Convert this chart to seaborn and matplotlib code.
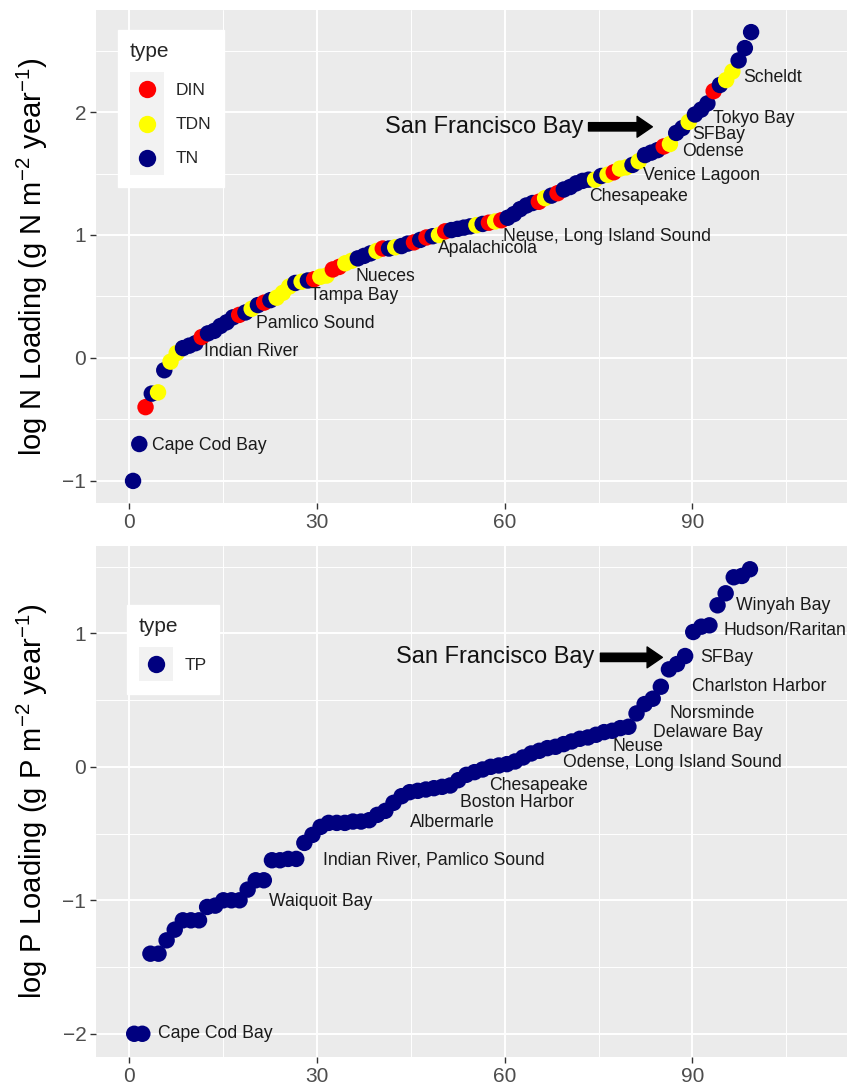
import numpy as np
import pandas as pd
import matplotlib
matplotlib.use("Agg")
import matplotlib.pyplot as plt
from matplotlib.ticker import MultipleLocator
from matplotlib.lines import Line2D
from matplotlib.patches import Rectangle
from matplotlib.legend_handler import HandlerBase
import seaborn as sns

# === Datos: carga de N (ordenada) ===
n_load = [-1.00, -0.70, -0.40, -0.29, -0.28, -0.10, -0.03, 0.04, 0.08, 0.10,
          0.12, 0.17, 0.20, 0.22, 0.26, 0.29, 0.33, 0.35, 0.37, 0.40,
          0.43, 0.45, 0.47, 0.49, 0.53, 0.58, 0.61, 0.62, 0.63, 0.64,
          0.66, 0.67, 0.72, 0.74, 0.77, 0.79, 0.81, 0.83, 0.85, 0.87,
          0.89, 0.89, 0.90, 0.91, 0.93, 0.94, 0.96, 0.98, 0.99, 1.00,
          1.03, 1.04, 1.05, 1.06, 1.07, 1.08, 1.09, 1.10, 1.11, 1.12,
          1.14, 1.17, 1.21, 1.24, 1.26, 1.27, 1.30, 1.32, 1.34, 1.37,
          1.39, 1.42, 1.44, 1.45, 1.45, 1.48, 1.49, 1.51, 1.54, 1.55,
          1.57, 1.60, 1.65, 1.67, 1.69, 1.72, 1.74, 1.83, 1.87, 1.92,
          1.98, 2.02, 2.07, 2.17, 2.22, 2.26, 2.33, 2.42, 2.52, 2.65]
n_type = ["TN", "TN", "DIN", "TN", "TDN", "TN", "TDN", "TDN", "TN", "TN",
          "TN", "DIN", "TN", "TN", "TN", "TN", "TN", "DIN", "TN", "TDN",
          "TN", "DIN", "TN", "TDN", "TDN", "TDN", "TN", "TDN", "TN", "DIN",
          "TDN", "TDN", "DIN", "DIN", "TDN", "TDN", "TN", "TN", "TN", "TDN",
          "DIN", "TN", "TDN", "TN", "TN", "DIN", "TN", "DIN", "TN", "TDN",
          "DIN", "TN", "TN", "TN", "TN", "TDN", "TN", "DIN", "TDN", "DIN",
          "TN", "TN", "TN", "TN", "TN", "DIN", "TDN", "TN", "DIN", "TN",
          "TN", "TN", "TN", "TN", "TDN", "TN", "TDN", "DIN", "TDN", "TDN",
          "TN", "TDN", "TN", "TN", "TN", "DIN", "TDN", "TN", "TN", "TDN",
          "TN", "TN", "TN", "DIN", "TN", "TDN", "TDN", "TN", "TN", "TN"]

n_labels = ["Cape Cod Bay", "Indian River", "Pamlico Sound", "Tampa Bay", "Nueces",
            "Apalachicola", "Neuse, Long Island Sound", "Chesapeake", "Venice Lagoon",
            "Odense", "SFBay", "Tokyo Bay", "Scheldt"]
n_label_x = [3.7, 12.0, 20.3, 28.9, 36.1, 49.4, 59.7, 73.5, 82.1, 88.3, 89.9, 93.3, 98.1]
n_label_y = [-0.71, 0.05, 0.28, 0.51, 0.66, 0.89, 0.99, 1.31, 1.48, 1.68, 1.82, 1.95, 2.28]

# === Datos: carga de P (ordenada) ===
p_load = [-2.00, -2.00, -1.40, -1.40, -1.30, -1.22, -1.15, -1.15, -1.15, -1.05,
          -1.04, -1.00, -1.00, -1.00, -0.92, -0.85, -0.85, -0.70, -0.70, -0.69,
          -0.69, -0.57, -0.51, -0.45, -0.42, -0.42, -0.42, -0.41, -0.41, -0.40,
          -0.36, -0.33, -0.27, -0.22, -0.19, -0.18, -0.17, -0.16, -0.15, -0.14,
          -0.10, -0.06, -0.04, -0.02, 0.00, 0.01, 0.02, 0.04, 0.07, 0.10,
          0.12, 0.14, 0.15, 0.17, 0.19, 0.21, 0.22, 0.24, 0.26, 0.27,
          0.29, 0.30, 0.40, 0.47, 0.51, 0.60, 0.73, 0.77, 0.83, 1.01,
          1.05, 1.06, 1.21, 1.30, 1.42, 1.43, 1.48]
p_type = ["TP"] * len(p_load)

p_labels = ["Cape Cod Bay", "Waiquoit Bay", "Indian River, Pamlico Sound", "Albermarle",
            "Boston Harbor", "Chesapeake", "Odense, Long Island Sound", "Neuse",
            "Delaware Bay", "Norsminde", "Charlston Harbor", "SFBay", "Hudson/Raritan",
            "Winyah Bay"]
p_label_x = [4.6, 22.4, 31.0, 44.8, 52.8, 57.5, 69.3, 77.2, 83.7, 86.3, 90.0, 91.3, 95.0, 97.0]
p_label_y = [-2.0, -1.01, -0.70, -0.42, -0.27, -0.14, 0.03, 0.15, 0.26, 0.40, 0.60, 0.82, 1.02, 1.21]

colores = {"DIN": "#ff0000", "TDN": "#ffff00", "TN": "#00007f", "TP": "#00007f"}


def blom_rank(n):
    """Posicion de graficado (Blom) en porcentaje."""
    i = np.arange(1, n + 1)
    return 100 * (i - 0.375) / (n + 0.25)


df_n = pd.DataFrame({"rank": blom_rank(len(n_load)), "load": n_load, "type": n_type})
df_p = pd.DataFrame({"rank": blom_rank(len(p_load)), "load": p_load, "type": p_type})

# === Configuración visual ===
sns.set_theme(style="darkgrid", rc={"axes.facecolor": "#ebebeb", "grid.color": "white"})
plt.rcParams["font.family"] = ["Liberation Sans", "DejaVu Sans"]
plt.rcParams["mathtext.fontset"] = "custom"
plt.rcParams["mathtext.rm"] = "Liberation Sans"
plt.rcParams["mathtext.default"] = "regular"

fig = plt.figure(figsize=(8.6, 10.86), dpi=100)
ax1 = fig.add_axes([0.1116, 0.5368, 0.8733, 0.4540])
ax2 = fig.add_axes([0.1116, 0.0267, 0.8733, 0.4705])


class HandlerKey(HandlerBase):
    """Llave tipo ggplot: cuadro gris con punto centrado."""
    def create_artists(self, legend, orig_handle, xdescent, ydescent, width, height,
                       fontsize, trans):
        rect = Rectangle((-xdescent, -ydescent), width, height, facecolor="#f2f2f2",
                         edgecolor="none", transform=trans)
        dot = Line2D([width / 2 - xdescent], [height / 2 - ydescent], marker="o",
                     linestyle="", markersize=12.5, color=orig_handle.get_color(),
                     markeredgewidth=0, transform=trans)
        return [rect, dot]


def style_axes(ax, ylim):
    ax.set_xlim(-5.3, 114.7)
    ax.set_ylim(*ylim)
    ax.xaxis.set_major_locator(MultipleLocator(30))
    ax.xaxis.set_minor_locator(MultipleLocator(15))
    ax.yaxis.set_major_locator(MultipleLocator(1))
    ax.yaxis.set_minor_locator(MultipleLocator(0.5))
    ax.grid(which="major", color="white", linewidth=1.4)
    ax.grid(which="minor", color="white", linewidth=0.7)
    ax.tick_params(which="major", length=4, width=1, color="#333333",
                   labelsize=15, labelcolor="#4d4d4d", pad=3)
    ax.tick_params(which="minor", length=0)
    ax.tick_params(axis="x", bottom=True)
    ax.tick_params(axis="y", left=True)
    for s in ax.spines.values():
        s.set_visible(False)
    ax.set_xlabel("")


def sf_arrow(ax, y, x_text, x_tip):
    ax.text(x_text, y, "San Francisco Bay", ha="right", va="center", fontsize=17, color="#111111")
    ax.annotate("", xy=(x_tip, y), xytext=(x_text + 0.9, y),
                arrowprops=dict(facecolor="black", edgecolor="black", width=6,
                                headwidth=15, headlength=11, shrink=0))


def gg_legend(ax, tipos, anchor):
    handles = [Line2D([], [], color=colores[t]) for t in tipos]
    leg = ax.legend(handles, tipos, title="type", handler_map={Line2D: HandlerKey()},
                    loc="upper left", bbox_to_anchor=anchor, borderaxespad=0,
                    frameon=True, fancybox=False, edgecolor="white", facecolor="white",
                    framealpha=1, fontsize=12.5, title_fontsize=15, labelspacing=0,
                    handlelength=1.96, handleheight=2.64, handletextpad=0.7, borderpad=0.7)
    leg._legend_box.align = "left"
    leg._legend_box.sep = 8  # espacio entre titulo y llaves
    return leg


# --- Panel N ---
sns.scatterplot(data=df_n, x="rank", y="load", hue="type", hue_order=["DIN", "TDN", "TN"],
                palette=colores, s=140, linewidth=0, ax=ax1, zorder=3, legend=False)
style_axes(ax1, (-1.18, 2.83))
ax1.set_ylabel("log N Loading (g N m$^{-2}$ year$^{-1}$)", fontsize=21, color="black", labelpad=9)
for lab, lx, ly in zip(n_labels, n_label_x, n_label_y):
    ax1.text(lx, ly, lab, ha="left", va="center", fontsize=12.7, color="#1a1a1a", zorder=4)
sf_arrow(ax1, 1.88, 72.5, 83.6)
gg_legend(ax1, ["DIN", "TDN", "TN"], (0.029, 0.959))

# --- Panel P ---
sns.scatterplot(data=df_p, x="rank", y="load", hue="type", palette=colores,
                s=140, linewidth=0, ax=ax2, zorder=3, legend=False)
style_axes(ax2, (-2.174, 1.654))
ax2.set_ylabel("log P Loading (g P m$^{-2}$ year$^{-1}$)", fontsize=21, color="black", labelpad=9)
for lab, lx, ly in zip(p_labels, p_label_x, p_label_y):
    ax2.text(lx, ly, lab, ha="left", va="center", fontsize=12.7, color="#1a1a1a", zorder=4)
sf_arrow(ax2, 0.82, 74.4, 85.2)
gg_legend(ax2, ["TP"], (0.041, 0.8845))

fig.savefig("out.png", dpi=100)
